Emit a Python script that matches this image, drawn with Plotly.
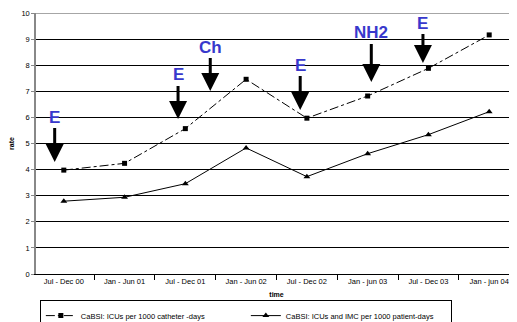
import plotly.graph_objects as go

categories = ["Jul - Dec 00", "Jan - Jun 01", "Jul - Dec 01", "Jan - Jun 02",
              "Jul - Dec 02", "Jan - jun 03", "Jul - Dec 03", "Jan - jun 04"]
catheter_days = [3.98, 4.24, 5.57, 7.46, 5.97, 6.82, 7.88, 9.16]
patient_days = [2.79, 2.94, 3.46, 4.83, 3.73, 4.61, 5.34, 6.22]

# interventions: label, x position (category index), arrow tip value
event_labels = ["E", "E", "Ch", "E", "NH2", "E"]
event_x = [-0.15, 1.88, 2.41, 3.89, 5.06, 5.91]
event_tip = [4.29, 5.94, 7.01, 6.28, 7.36, 8.08]

# label offsets above arrow tips (pixels) - layout only
LABEL_OFFSETS = [-45, -44, -44, -45, -49, -40]

fig = go.Figure()
fig.add_trace(go.Scatter(
    x=categories, y=catheter_days, mode="lines+markers",
    name="CaBSI: ICUs per 1000 catheter -days",
    line=dict(color="black", width=1, dash="dashdot"),
    marker=dict(symbol="square", size=5, color="black")))
fig.add_trace(go.Scatter(
    x=categories, y=patient_days, mode="lines+markers",
    name="CaBSI: ICUs and IMC per 1000 patient-days",
    line=dict(color="black", width=1),
    marker=dict(symbol="triangle-up", size=6, color="black")))

for lab, ex, tip, off in zip(event_labels, event_x, event_tip, LABEL_OFFSETS):
    fig.add_annotation(x=ex, y=tip, xref="x", yref="y", text="<b>%s</b>" % lab,
                       showarrow=True, arrowhead=2, arrowsize=1.2, arrowwidth=3,
                       arrowcolor="black", ax=0, ay=off,
                       font=dict(family="Liberation Sans, Arial", size=17, color="#3838cc"))

fig.add_shape(type="line", xref="paper", yref="y", x0=0, x1=1, y0=10, y1=10,
              line=dict(color="#888888", width=1.5))

fig.update_layout(
    width=509, height=314,
    margin=dict(l=28, r=0, t=5, b=48, autoexpand=False),
    paper_bgcolor="white", plot_bgcolor="white",
    font=dict(family="Liberation Sans, Arial", size=7, color="black"),
    showlegend=True,
    legend=dict(orientation="h", x=0.008, y=-0.1, xanchor="left", yanchor="top",
                bordercolor="black", borderwidth=1, bgcolor="white",
                font=dict(size=7.5), entrywidth=160, entrywidthmode="pixels",
                itemwidth=30),
)
fig.update_xaxes(type="category", tickson="boundaries", ticks="outside", ticklen=5,
                 tickcolor="black", showline=True, linecolor="black", linewidth=1,
                 showgrid=False,
                 title=dict(text="<b>time</b>", font=dict(size=7), standoff=7),
                 tickfont=dict(size=7.5))
fig.update_yaxes(range=[0, 10], dtick=1, ticks="outside", ticklen=3, tickcolor="#888888",
                 showline=True, linecolor="#888888", linewidth=1.5,
                 showgrid=True, gridcolor="black", gridwidth=1,
                 title=dict(text="<b>rate</b>", font=dict(size=7), standoff=10),
                 tickfont=dict(size=7.5), zeroline=False)

fig.write_html("out.html")
